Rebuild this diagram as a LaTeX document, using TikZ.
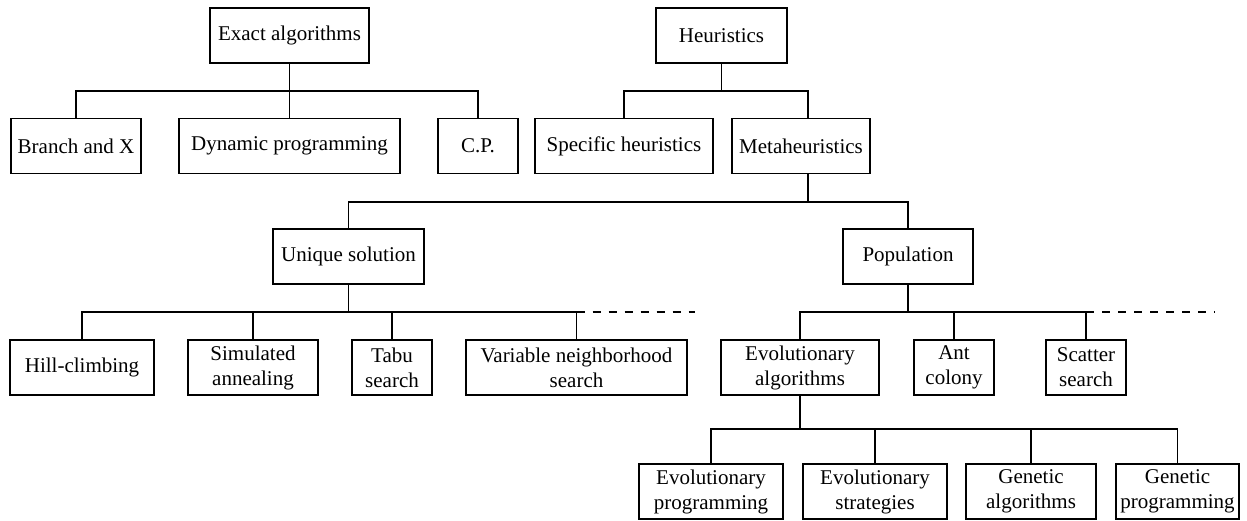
\documentclass[tikz,border=0pt]{standalone}
\usepackage{fontspec}
\setmainfont{Liberation Serif}
\begin{document}
\begin{tikzpicture}[x=1pt,y=-1pt,
  box/.style={draw,line width=1.2pt,inner sep=0pt,align=center,
    minimum height=55pt,font=\fontsize{21}{25}\selectfont},
  link/.style={line width=1.2pt},
  more/.style={line width=1.2pt,dash pattern=on 8pt off 8pt}]
\useasboundingbox (0,0) rectangle (1247,520);

% level 1
\node[box,minimum width=159pt] (exact) at (289.5,35.5) {Exact algorithms};
\node[box,minimum width=131pt] (heur)  at (721.5,35.5) {Heuristics};

% level 2
\node[box,minimum width=130pt] (bnx)  at (76,146)    {Branch and X};
\node[box,minimum width=221pt] (dp)   at (289.5,146) {Dynamic programming};
\node[box,minimum width=80pt]  (cp)   at (478,146)   {C.P.};
\node[box,minimum width=178pt] (spec) at (624,146)   {Specific heuristics};
\node[box,minimum width=138pt] (meta) at (801,146)   {Metaheuristics};

% level 3
\node[box,minimum width=151pt] (uniq) at (348.5,256.5) {Unique solution};
\node[box,minimum width=130pt] (pop)  at (908,256.5)   {Population};

% level 4
\node[box,minimum width=144pt] (hill) at (82,367.5)   {Hill-climbing};
\node[box,minimum width=130pt] (sim)  at (253,367.5)  {Simulated\\annealing};
\node[box,minimum width=80pt]  (tabu) at (392,367.5)  {Tabu\\search};
\node[box,minimum width=221pt] (vns)  at (576.5,367.5){Variable neighborhood\\search};
\node[box,minimum width=158pt] (ea)   at (800,367.5)  {Evolutionary\\algorithms};
\node[box,minimum width=80pt]  (ant)  at (954,367.5)  {Ant\\colony};
\node[box,minimum width=80pt]  (scat) at (1086,367.5) {Scatter\\search};

% level 5
\node[box,minimum width=144pt] (ep) at (711,491.5)    {Evolutionary\\programming};
\node[box,minimum width=144pt] (es) at (875,491.5)    {Evolutionary\\strategies};
\node[box,minimum width=130pt] (ga) at (1031,491.5)   {Genetic\\algorithms};
\node[box,minimum width=123pt] (gp) at (1177.5,491.5) {Genetic\\programming};

% bus heights
\coordinate (busA) at (0,91);
\coordinate (busB) at (0,202);
\coordinate (busC) at (0,312);
\coordinate (busD) at (0,429);
\coordinate (mtop) at ([xshift=7pt]meta.north);
\coordinate (mbot) at ([xshift=7pt]meta.south);
\coordinate (endL) at (695,312);
\coordinate (endR) at (1215,312);

% exact algorithms
\draw[link] (exact.south) -- (exact.south |- busA);
\draw[link] (bnx.north) -- (bnx.north |- busA) -- (cp.north |- busA) -- (cp.north);
\draw[link] (dp.north) -- (dp.north |- busA);

% heuristics
\draw[link] (heur.south) -- (heur.south |- busA);
\draw[link] (spec.north) -- (spec.north |- busA) -- (mtop |- busA) -- (mtop);

% metaheuristics
\draw[link] (mbot) -- (mbot |- busB);
\draw[link] (uniq.north) -- (uniq.north |- busB) -- (pop.north |- busB) -- (pop.north);

% unique solution
\draw[link] (uniq.south) -- (uniq.south |- busC);
\draw[link] (hill.north) -- (hill.north |- busC) -- (vns.north |- busC) -- (vns.north);
\draw[link] (sim.north) -- (sim.north |- busC);
\draw[link] (tabu.north) -- (tabu.north |- busC);
\draw[more] (vns.north |- busC) -- (endL);

% population
\draw[link] (pop.south) -- (pop.south |- busC);
\draw[link] (ea.north) -- (ea.north |- busC) -- (scat.north |- busC) -- (scat.north);
\draw[link] (ant.north) -- (ant.north |- busC);
\draw[more] (scat.north |- busC) -- (endR);

% evolutionary algorithms
\draw[link] (ea.south) -- (ea.south |- busD);
\draw[link] (ep.north) -- (ep.north |- busD) -- (gp.north |- busD) -- (gp.north);
\draw[link] (es.north) -- (es.north |- busD);
\draw[link] (ga.north) -- (ga.north |- busD);
\end{tikzpicture}
\end{document}
